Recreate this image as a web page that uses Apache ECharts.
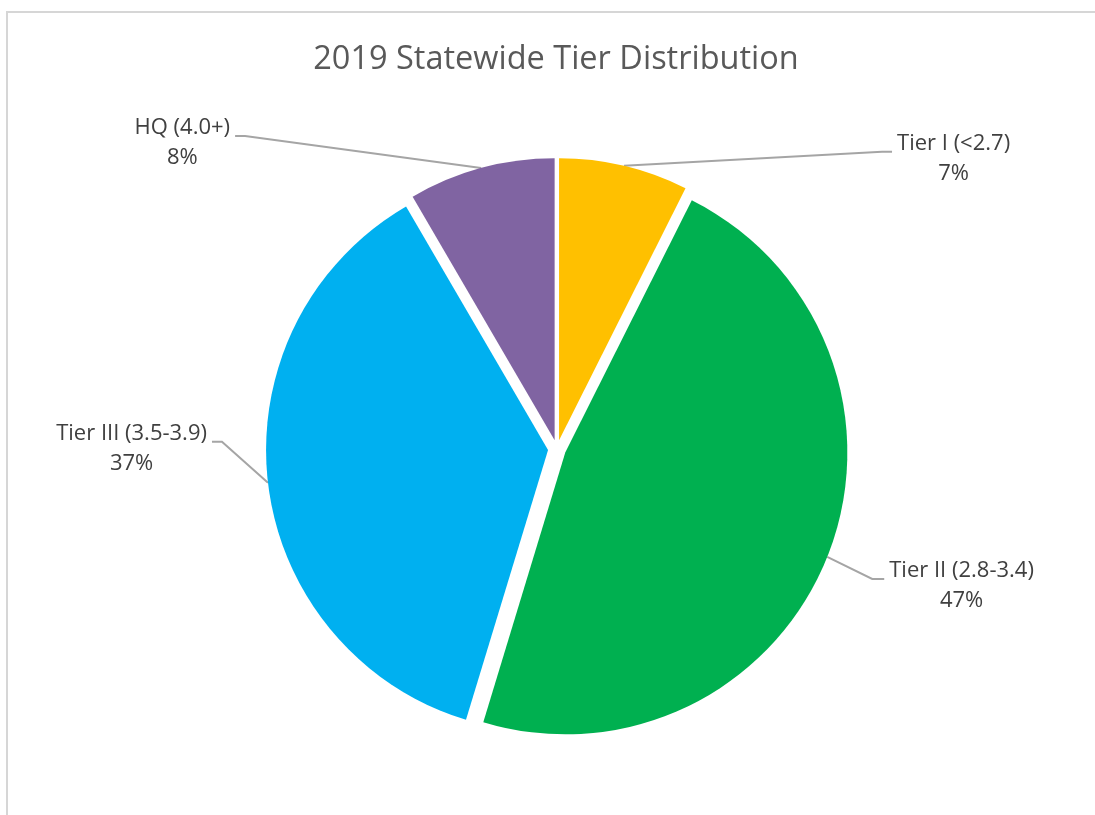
<!DOCTYPE html>
<html><head><meta charset="utf-8">
<script src="https://cdn.jsdelivr.net/npm/echarts@6/dist/echarts.min.js"></script>
<style>
html,body{margin:0;padding:0;background:#fff;overflow:hidden;}
#chart{position:absolute;left:0;top:0;width:1095px;height:815px;}
#frame{position:absolute;left:6px;top:11px;width:1200px;height:900px;border-top:2px solid #d6d6d6;border-left:2px solid #d6d6d6;pointer-events:none;}
</style>
</head><body><div id="chart"></div><div id="frame"></div>
<script>
const chartTitle = '2019 Statewide Tier Distribution';
const categories = ['Tier I (<2.7)', 'Tier II (2.8-3.4)', 'Tier III (3.5-3.9)', 'HQ (4.0+)'];
const values = [7.4, 47.3, 36.9, 8.4];
const colors = ['#FFC000', '#00B050', '#00B0F0', '#8064A2'];
// leader-line styling: elbow offset from slice edge, and tail length
const leaderVectors = [[258, -14], [45, 22], [-46, -41], [-236, -32]];
const leaderTails = [10, 12, 10, 10];

const total = values.reduce((a, b) => a + b, 0);
const chart = echarts.init(document.getElementById('chart'), null, {renderer: 'canvas'});
const txt = {fontFamily: 'Open Sans', fontSize: 22, lineHeight: 30, color: '#404040', align: 'center'};
const LABEL_GAP = 5;

chart.setOption({
  animation: false,
  backgroundColor: '#ffffff',
  title: {
    text: chartTitle, left: 551, top: 38, textAlign: 'center',
    textStyle: {fontFamily: 'Open Sans', fontSize: 32.5, fontWeight: 'normal', color: '#595959'}
  },
  series: [{
    type: 'pie',
    center: [557, 449],
    radius: 282,
    startAngle: 90,
    clockwise: true,
    selectedMode: 'multiple',
    selectedOffset: 9,
    avoidLabelOverlap: false,
    data: categories.map((c, i) => ({name: c, value: values[i], selected: true, itemStyle: {color: colors[i]}})),
    label: {
      show: true, position: 'outside', distanceToLabelLine: LABEL_GAP,
      formatter: p => '{n|' + p.name + '}\n{p|' + Math.round(p.value / total * 100) + '%}',
      rich: {n: txt, p: txt}
    },
    labelLine: {show: true, length: 10, length2: 10, lineStyle: {color: '#a5a5a5', width: 2}},
    select: {itemStyle: {borderWidth: 0}},
    emphasis: {disabled: true},
    labelLayout: function (p) {
      const pts = p.labelLinePoints;
      if (!pts) return {};
      const i = p.dataIndex;
      const v = leaderVectors[i];
      const sign = v[0] >= 0 ? 1 : -1;
      const p0 = pts[0];
      const def = pts[pts.length - 1];
      const p1 = [p0[0] + v[0], p0[1] + v[1]];
      const p2 = [p1[0] + sign * leaderTails[i], p1[1]];
      return {
        dx: p2[0] - def[0], dy: (p2[1] - 23) - def[1],
        align: sign > 0 ? 'left' : 'right', verticalAlign: 'top',
        labelLinePoints: [p0, p1, p2]
      };
    }
  }]
});
</script>
</body></html>
